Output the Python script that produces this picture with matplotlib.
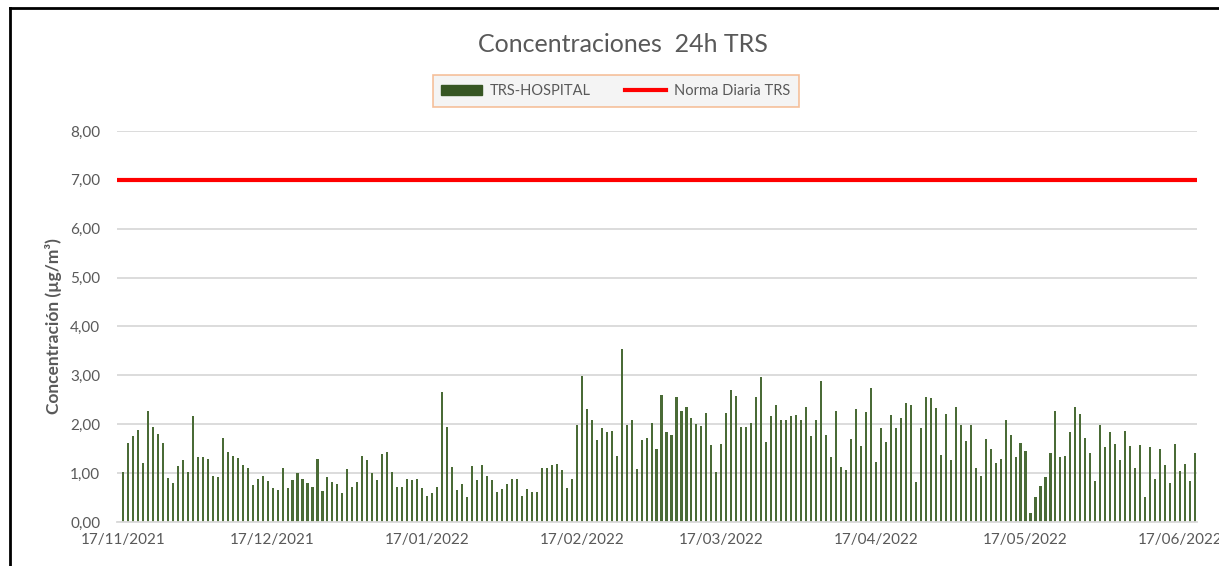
import pandas as pd
import matplotlib.pyplot as plt
import matplotlib.dates as mdates
from matplotlib.lines import Line2D

# concentraciones diarias TRS (ug/m3), desde 17/11/2021
trs_hospital = [
    1.03, 1.61, 1.75, 1.89, 1.21, 2.27, 1.95, 1.81, 1.61, 0.90, 0.79, 1.15, 1.27, 1.03, 2.16, 1.33, 1.33, 1.29, 0.95, 0.92, 1.71, 1.43, 1.35, 1.31, 1.16, 1.11, 0.75,
    0.87, 0.95, 0.84, 0.69, 0.65, 1.11, 0.69, 0.85, 1.00, 0.88, 0.79, 0.72, 1.29, 0.64, 0.93, 0.82, 0.77, 0.60, 1.09, 0.71, 0.82, 1.36, 1.27, 1.00, 0.85, 1.39, 1.44,
    1.02, 0.71, 0.71, 0.87, 0.86, 0.87, 0.69, 0.53, 0.60, 0.71, 2.66, 1.95, 1.13, 0.65, 0.77, 0.51, 1.15, 0.85, 1.17, 0.95, 0.85, 0.61, 0.67, 0.77, 0.89, 0.87, 0.53,
    0.67, 0.61, 0.61, 1.11, 1.11, 1.17, 1.19, 1.07, 0.69, 0.87, 1.98, 2.98, 2.32, 2.09, 1.67, 1.93, 1.84, 1.87, 1.35, 3.53, 1.98, 2.09, 1.09, 1.67, 1.71, 2.03, 1.49,
    2.60, 1.85, 1.78, 2.55, 2.27, 2.36, 2.13, 2.00, 1.97, 2.23, 1.58, 1.03, 1.59, 2.23, 2.71, 2.58, 1.95, 1.95, 2.03, 2.55, 2.96, 1.64, 2.16, 2.40, 2.08, 2.08, 2.16,
    2.19, 2.08, 2.36, 1.75, 2.08, 2.88, 1.77, 1.32, 2.27, 1.13, 1.07, 1.69, 2.32, 1.55, 2.25, 2.75, 1.23, 1.93, 1.64, 2.19, 1.93, 2.13, 2.43, 2.40, 0.82, 1.93, 2.55,
    2.53, 2.34, 1.38, 2.21, 1.27, 2.36, 1.98, 1.65, 1.99, 1.11, 0.95, 1.69, 1.49, 1.21, 1.29, 2.08, 1.79, 1.32, 1.61, 1.45, 0.19, 0.51, 0.73, 0.93, 1.42, 2.27, 1.32,
    1.36, 1.85, 2.36, 2.21, 1.71, 1.42, 0.84, 1.98, 1.53, 1.85, 1.59, 1.27, 1.87, 1.55, 1.11, 1.58, 0.51, 1.53, 0.87, 1.49, 1.17, 0.79, 1.59, 1.05, 1.19, 0.84, 1.42,
]
norma_diaria = 7.0
fechas = pd.date_range("2021-11-17", periods=len(trs_hospital), freq="D")
ticks = pd.date_range("2021-11-17", "2022-06-17", freq=pd.DateOffset(months=1))

gris = "#595959"
plt.rcParams["font.family"] = ["Lato", "DejaVu Sans"]

fig = plt.figure(figsize=(12.19, 5.66), dpi=100)
ax = fig.add_axes([0.096, 0.0777, 0.886, 0.691])

ax.bar(fechas, trs_hospital, width=0.42, color="#4a6b36", zorder=2)
ax.plot([fechas[0] - pd.Timedelta(days=1.2), fechas[-1] + pd.Timedelta(days=0.4)],
        [norma_diaria, norma_diaria], color="#ff0000", lw=3, zorder=3)

ax.set_xlim(fechas[0] - pd.Timedelta(days=1.2), fechas[-1] + pd.Timedelta(days=0.4))
ax.set_ylim(0, 8)
ax.set_yticks(range(0, 9))
ax.set_yticklabels([f"{v},00" for v in range(0, 9)])
ax.set_xticks(ticks)
ax.xaxis.set_major_formatter(mdates.DateFormatter("%d/%m/%Y"))
ax.tick_params(axis="both", length=0, colors=gris, labelsize=11)
ax.tick_params(axis="y", pad=12)
ax.tick_params(axis="x", pad=8)
ax.grid(axis="y", color="#d9d9d9", lw=1.3, zorder=0)
for s in ["top", "right", "left"]:
    ax.spines[s].set_visible(False)
ax.spines["bottom"].set_color("#d9d9d9")
ax.spines["bottom"].set_linewidth(1.3)

ax.set_ylabel("Concentración (µg/m³)", color=gris, fontsize=12.5, fontweight="bold", labelpad=6)

fig.text(0.511, 0.922, "Concentraciones  24h TRS", ha="center", va="center",
         fontsize=18, color=gris)

handles = [plt.Rectangle((0, 0), 1, 1, color="#375623"),
           Line2D([0], [0], color="#ff0000", lw=3)]
leg = fig.legend(handles, ["TRS-HOSPITAL", "Norma Diaria TRS"], loc="center",
                 bbox_to_anchor=(0.505, 0.839), ncol=2, frameon=True, fontsize=10.5,
                 handlelength=2.8, handleheight=0.6, handletextpad=0.5, columnspacing=2.4,
                 borderpad=0.6, borderaxespad=0, fancybox=False, labelcolor=gris)
leg.get_frame().set_facecolor("#f2f2f2")
leg.get_frame().set_edgecolor("#f4b183")
leg.get_frame().set_linewidth(1.2)

# marco exterior
fig.add_artist(Line2D([0.0085, 0.0085], [0.0, 0.986], color="black", lw=2))
fig.add_artist(Line2D([0.0085, 1.0], [0.986, 0.986], color="black", lw=2))

fig.savefig("out.png", dpi=100)
